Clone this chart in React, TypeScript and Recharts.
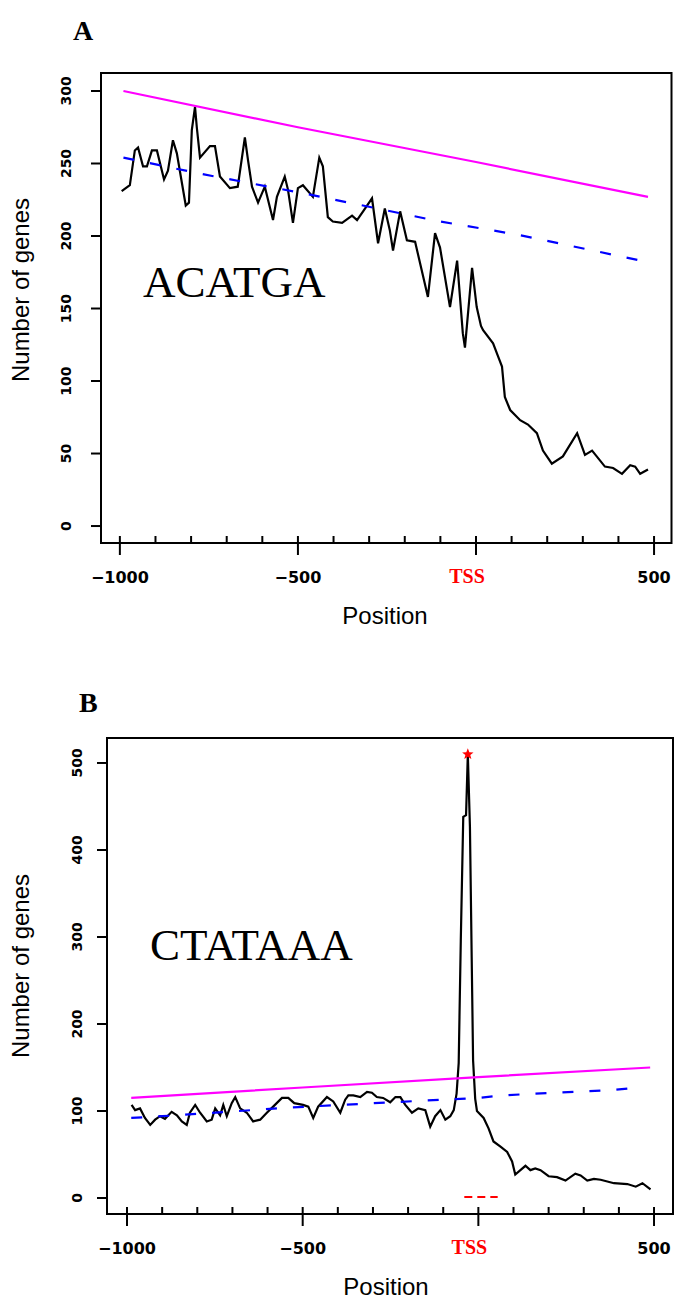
import React from "react";
import { LineChart, Line, XAxis, YAxis, ReferenceArea, ReferenceDot } from "recharts";

const posA = [
  -995, -972, -958, -949, -935, -924, -910, -896, -876, -865, -851, -840, -815, -806, -798, -789,
  -784, -775, -747, -733, -719, -691, -669, -649, -640, -629, -612, -593, -570, -559, -537, -528,
  -514, -500, -486, -458, -440, -430, -416, -402, -376, -348, -334, -317, -292, -275, -256, -242,
  -233, -213, -194, -171, -135, -115, -101, -73, -53, -37, -31, -11, 2, 14, 20, 48, 62, 73, 81, 96,
  124, 146, 171, 188, 213, 244, 284, 306, 326, 362, 385, 410, 433, 447, 461, 483,
];
const genesA = [
  231, 235, 259, 261, 248, 248, 259, 259, 239, 245, 266, 257, 221, 223, 273, 289,
  275, 254, 262, 262, 241, 233, 234, 268, 252, 234, 223, 234, 211, 227, 241, 232,
  209, 233, 235, 227, 254, 248, 213, 210, 209, 214, 211, 217, 226, 195, 219, 204,
  190, 217, 197, 196, 158, 202, 192, 151, 183, 133, 123, 178, 151, 138, 135, 126, 117, 110, 89, 80,
  73, 70, 64, 52, 43, 48, 64, 49, 52, 41, 40, 36, 42, 41, 36, 39,
];
// magenta (solid) and blue (dashed) reference curves
const expPosA = [-990, -500, 0, 483];
const expA = [300, 275, 251, 227];
const bgPosA = [-990, -775, -475, -101, 115, 483];
const bgA = [254, 243, 229, 210, 201, 182];

// Panel B - CTATAAA
const posB = [
  -987, -977, -963, -949, -934, -920, -906, -892, -873, -858, -844, -830, -821, -806, -792, -773,
  -759, -749, -735, -726, -716, -702, -692, -678, -659, -641, -621, -602, -584, -559, -541, -524,
  -499, -484, -470, -456, -431, -413, -393, -379, -370, -356, -336, -317, -303, -289, -271, -251,
  -236, -222, -208, -189, -171, -151, -137, -123, -108, -94, -80, -70, -62, -56, -50, -43, -35,
  -30, -24, -19, -15, -12, -9, -4, 15, 29, 43, 63, 82, 96, 105, 134, 148, 162, 177, 200, 224, 248,
  276, 291, 310, 329, 348, 386, 424, 448, 467, 490,
];
const genesB = [
  107, 101, 103, 92, 84, 90, 94, 91, 99, 95, 88, 84, 98, 107, 98, 88,
  90, 103, 95, 107, 94, 109, 116, 103, 98, 88, 90, 98, 105, 115, 115, 109,
  107, 105, 92, 105, 116, 111, 98, 113, 118, 118, 116, 122, 121, 116, 115, 110,
  116, 116, 107, 98, 103, 101, 82, 94, 101, 90, 94, 101, 120, 155, 296, 438, 440,
  510, 427, 277, 158, 136, 114, 100, 92, 80, 65, 59, 53, 42, 27, 37, 32, 34, 32, 25, 24, 20,
  28, 26, 20, 22, 21, 17, 16, 13, 17, 10,
];
const expPosB = [-988, -500, 0, 489];
const expB = [115, 127, 139, 150];
const bgPosB = [-988, -900, -535, -150, 0, 70, 215, 380, 453];
const bgB = [92, 94, 104, 112, 115, 118, 121, 124, 127];
const peakB = { x: -30, y: 510 };
const sigPosB = [-40, 55];
const sigB = [1, 1];

const xTicks = [-1000, -900, -800, -700, -600, -500, -400, -300, -200, -100, 0, 100, 200, 300, 400, 500];
const yTicksA = [0, 50, 100, 150, 200, 250, 300];
const yTicksB = [0, 100, 200, 300, 400, 500];

const toPoints = (xs: number[], ys: number[]) => xs.map((x, i) => ({ x, y: ys[i] }));

const tickFont = "'DejaVu Sans', sans-serif";

const XTick = (props: any) => {
  const { x, y, payload } = props;
  const v = payload.value;
  const major = v % 500 === 0;
  return (
    <g>
      <line x1={x} x2={x} y1={y - 7} y2={major ? y + 12 : y} stroke="#000" strokeWidth={2} />
      {major && v === 0 && (
        <text x={x - 9} y={y + 40} textAnchor="middle" fill="#ff0000" fontFamily="'Liberation Serif', serif" fontWeight="bold" fontSize={20}>
          TSS
        </text>
      )}
      {major && v !== 0 && (
        <text x={x} y={y + 40} textAnchor="middle" fill="#000" fontFamily={tickFont} fontWeight="bold" fontSize={16}>
          {v < 0 ? "\u2212" + Math.abs(v) : v}
        </text>
      )}
    </g>
  );
};

const makeYTick = (offset: number) => (props: any) => {
  const { x, y, payload } = props;
  return (
    <g>
      <line x1={x - 10} x2={x} y1={y} y2={y} stroke="#000" strokeWidth={2} />
      <text
        x={x - offset}
        y={y}
        transform={`rotate(-90 ${x - offset} ${y})`}
        textAnchor="middle"
        fill="#000"
        fontFamily={tickFont}
        fontWeight="bold"
        fontSize={14}
      >
        {payload.value}
      </text>
    </g>
  );
};

const Star = (props: any) => {
  const { cx, cy } = props;
  const pts: string[] = [];
  for (let i = 0; i < 10; i++) {
    const r = i % 2 === 0 ? 6 : 2.6;
    const a = -Math.PI / 2 + (i * Math.PI) / 5;
    pts.push(`${cx + r * Math.cos(a)},${cy + r * Math.sin(a)}`);
  }
  return <polygon points={pts.join(" ")} fill="#ff0000" />;
};

const serif = "'Liberation Serif', 'Times New Roman', serif";
const sans = "'Liberation Sans', Arial, sans-serif";

const PanelA = () => {
  const xDom = [-1053, 549];
  const yDom = [-11.7, 312.4];
  return (
    <LineChart width={674} height={640} margin={{ top: 73, right: 2.5, left: 41, bottom: 57 }}>
      <XAxis
        type="number"
        dataKey="x"
        domain={xDom}
        ticks={xTicks}
        interval={0}
        allowDataOverflow
        axisLine={false}
        tickLine={false}
        tickSize={0}
        tickMargin={0}
        height={40}
        tick={<XTick />}
      />
      <YAxis
        type="number"
        dataKey="y"
        domain={yDom}
        ticks={yTicksA}
        interval={0}
        allowDataOverflow
        axisLine={false}
        tickLine={false}
        tickSize={0}
        tickMargin={0}
        width={60}
        tick={makeYTick(30)}
      />
      <ReferenceArea x1={xDom[0]} x2={xDom[1]} y1={yDom[0]} y2={yDom[1]} fill="none" stroke="#000" strokeWidth={2} ifOverflow="visible" />
      <Line data={toPoints(posA, genesA)} dataKey="y" type="linear" stroke="#000" strokeWidth={2.2} dot={false} isAnimationActive={false} />
      <Line data={toPoints(expPosA, expA)} dataKey="y" type="linear" stroke="#ff00ff" strokeWidth={2.2} dot={false} isAnimationActive={false} />
      <Line data={toPoints(bgPosA, bgA)} dataKey="y" type="linear" stroke="#0000ff" strokeWidth={2.2} strokeDasharray="11 16" dot={false} isAnimationActive={false} />
      <text x={73} y={40} fontFamily={serif} fontWeight="bold" fontSize={28} fill="#000">A</text>
      <text x={143} y={297} fontFamily={serif} fontSize={45} fill="#000">ACATGA</text>
      <text x={29} y={290} transform="rotate(-90 29 290)" textAnchor="middle" fontFamily={sans} fontSize={24} fill="#000">
        Number of genes
      </text>
      <text x={385} y={624} textAnchor="middle" fontFamily={sans} fontSize={24} fill="#000">Position</text>
    </LineChart>
  );
};

const PanelB = () => {
  const xDom = [-1057, 554];
  const yDom = [-18.4, 528.7];
  return (
    <LineChart width={674} height={642} margin={{ top: 78, right: 1, left: 47, bottom: 48 }}>
      <XAxis
        type="number"
        dataKey="x"
        domain={xDom}
        ticks={xTicks}
        interval={0}
        allowDataOverflow
        axisLine={false}
        tickLine={false}
        tickSize={0}
        tickMargin={0}
        height={40}
        tick={<XTick />}
      />
      <YAxis
        type="number"
        dataKey="y"
        domain={yDom}
        ticks={yTicksB}
        interval={0}
        allowDataOverflow
        axisLine={false}
        tickLine={false}
        tickSize={0}
        tickMargin={0}
        width={60}
        tick={makeYTick(25)}
      />
      <ReferenceArea x1={xDom[0]} x2={xDom[1]} y1={yDom[0]} y2={yDom[1]} fill="none" stroke="#000" strokeWidth={2} ifOverflow="visible" />
      <Line data={toPoints(posB, genesB)} dataKey="y" type="linear" stroke="#000" strokeWidth={2.2} dot={false} isAnimationActive={false} />
      <Line data={toPoints(expPosB, expB)} dataKey="y" type="linear" stroke="#ff00ff" strokeWidth={2.2} dot={false} isAnimationActive={false} />
      <Line data={toPoints(bgPosB, bgB)} dataKey="y" type="linear" stroke="#0000ff" strokeWidth={2.2} strokeDasharray="11 16" dot={false} isAnimationActive={false} />
      <Line data={toPoints(sigPosB, sigB)} dataKey="y" type="linear" stroke="#ff0000" strokeWidth={2} strokeDasharray="8 5" dot={false} isAnimationActive={false} />
      <ReferenceDot x={peakB.x} y={peakB.y} shape={<Star />} ifOverflow="visible" />
      <text x={79} y={52} fontFamily={serif} fontWeight="bold" fontSize={28} fill="#000">B</text>
      <text x={150} y={300} fontFamily={serif} fontSize={45} fill="#000">CTATAAA</text>
      <text x={29} y={306} transform="rotate(-90 29 306)" textAnchor="middle" fontFamily={sans} fontSize={24} fill="#000">
        Number of genes
      </text>
      <text x={386} y={635} textAnchor="middle" fontFamily={sans} fontSize={24} fill="#000">Position</text>
    </LineChart>
  );
};

export default function App() {
  return (
    <div style={{ position: "absolute", left: 0, top: 0, width: 674, height: 1302, background: "#fff", overflow: "hidden" }}>
      <div style={{ position: "absolute", left: 0, top: 0 }}>
        <PanelA />
      </div>
      <div style={{ position: "absolute", left: 0, top: 660 }}>
        <PanelB />
      </div>
    </div>
  );
}
